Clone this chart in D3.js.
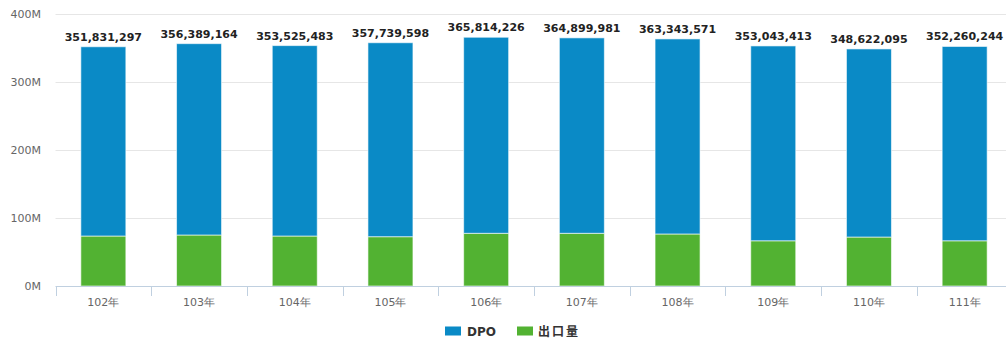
<!DOCTYPE html>
<html>
<head>
<meta charset="utf-8">
<script src="https://cdn.jsdelivr.net/npm/d3@7"></script>
<style>
  html, body { margin: 0; padding: 0; background: #fff; }
  svg { display: block; }
</style>
</head>
<body>
<svg id="chart" width="1006" height="340"></svg>
<script>
// Yearly totals (ROC years), split into DPO and export volume
const years = ["102年", "103年", "104年", "105年", "106年", "107年", "108年", "109年", "110年", "111年"];
const totals = [351831297, 356389164, 353525483, 357739598, 365814226, 364899981, 363343571, 353043413, 348622095, 352260244];
const exportVol = [73500000, 75000000, 73500000, 72500000, 77500000, 77500000, 76500000, 66500000, 72000000, 66500000];
const dpoVol = totals.map((t, i) => t - exportVol[i]);
const seriesNames = ["DPO", "出口量"];
const yTicks = [0, 100e6, 200e6, 300e6, 400e6];

const colors = { "DPO": "#0a8ac6", "出口量": "#52b232" };
const font = "'DejaVu Sans', Verdana, sans-serif";

const svg = d3.select("#chart");
const plotLeft = 55.5, plotRight = 1012.5, plotTop = 14, plotBottom = 286;

const x = d3.scaleBand().domain(years).range([plotLeft, plotRight]).paddingInner(0).paddingOuter(0);
const y = d3.scaleLinear().domain([0, 400e6]).range([plotBottom, plotTop]);
const barW = 45;

// horizontal grid
svg.append("g").selectAll("line")
  .data(yTicks.filter(d => d > 0))
  .join("line")
  .attr("x1", plotLeft).attr("x2", 1006)
  .attr("y1", d => Math.round(y(d)) + 0.5).attr("y2", d => Math.round(y(d)) + 0.5)
  .attr("stroke", "#e6e6e6").attr("stroke-width", 1);

// y-axis labels
const yAxis = d3.axisLeft(y).tickValues(yTicks).tickSize(0).tickPadding(0)
  .tickFormat(d => (d / 1e6) + "M");
const gy = svg.append("g").attr("transform", "translate(41,0)").call(yAxis);
gy.select(".domain").remove();
gy.selectAll("text").attr("font-family", font).attr("font-size", 11).attr("fill", "#666");

// stacked bars
const stackData = years.map((yr, i) => ({ year: yr, "DPO": dpoVol[i], "出口量": exportVol[i] }));
const stack = d3.stack().keys(["出口量", "DPO"]);
const layers = stack(stackData);

svg.append("g").selectAll("g")
  .data(layers)
  .join("g")
  .attr("fill", d => colors[d.key])
  .selectAll("rect")
  .data(d => d)
  .join("rect")
  .attr("x", d => x(d.data.year) + x.bandwidth() / 2 - barW / 2)
  .attr("width", barW)
  .attr("y", d => y(d[1]))
  .attr("height", d => y(d[0]) - y(d[1]))
  .attr("stroke", "#ffffff").attr("stroke-opacity", 0.6).attr("stroke-width", 1);

// x axis
const xAxis = d3.axisBottom(x).tickSize(0).tickPadding(0);
const gx = svg.append("g").attr("transform", `translate(0,${plotBottom})`).call(xAxis);
gx.select(".domain").remove();
gx.selectAll("text").attr("font-family", font).attr("font-size", 11).attr("fill", "#666")
  .attr("dy", "0").attr("y", 20);
svg.append("line")
  .attr("x1", plotLeft).attr("x2", 1006)
  .attr("y1", plotBottom + 0.5).attr("y2", plotBottom + 0.5)
  .attr("stroke", "#c0d0e0");
svg.append("g").selectAll("line")
  .data(years)
  .join("line")
  .attr("x1", d => Math.round(x(d)) + 0.5).attr("x2", d => Math.round(x(d)) + 0.5)
  .attr("y1", plotBottom).attr("y2", plotBottom + 10)
  .attr("stroke", "#c0d0e0");

// total labels above each stack
svg.append("g").selectAll("text")
  .data(totals)
  .join("text")
  .attr("x", (d, i) => x(years[i]) + x.bandwidth() / 2)
  .attr("y", d => y(d) - 6)
  .attr("text-anchor", "middle")
  .attr("font-family", font).attr("font-size", 11).attr("font-weight", "bold")
  .attr("fill", "#222")
  .text(d => d3.format(",")(d));

// legend
const legend = svg.append("g");
const legendItems = [
  { name: seriesNames[0], x: 445, textX: 467 },
  { name: seriesNames[1], x: 517, textX: 538 }
];
legendItems.forEach(it => {
  legend.append("rect")
    .attr("x", it.x).attr("y", 326.5).attr("width", 16).attr("height", 9)
    .attr("fill", colors[it.name]);
  legend.append("text")
    .attr("x", it.textX).attr("y", 336)
    .attr("font-family", it.name === "DPO" ? font : "'Noto Sans CJK TC', 'Noto Sans CJK SC', sans-serif")
    .attr("font-size", 12).attr("font-weight", "bold")
    .attr("letter-spacing", it.name === "DPO" ? 0 : 2)
    .attr("fill", "#333")
    .text(it.name);
});
</script>
</body>
</html>
